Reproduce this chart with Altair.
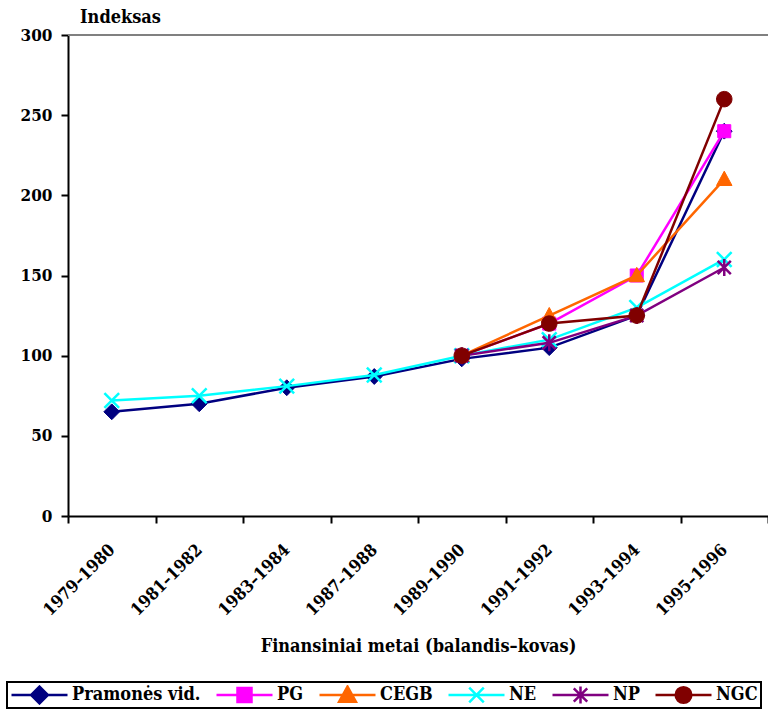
import altair as alt
import pandas as pd

# Financial years (April–March)
years = ["1979–1980", "1981–1982", "1983–1984", "1987–1988",
         "1989–1990", "1991–1992", "1993–1994", "1995–1996"]

# Index values per series (None = no data for that year)
pramones = [65, 70, 80, 87, 98, 105, 125, 240]
pg = [None, None, None, None, 100, 120, 150, 240]
cegb = [None, None, None, None, 100, 125, 150, 210]
ne = [72, 75, 81, 88, 100, 110, 130, 160]
np_vals = [None, None, None, None, 100, 108, 125, 155]
ngc = [None, None, None, None, 100, 120, 125, 260]

names = ["Pramonės vid.", "PG", "CEGB", "NE", "NP", "NGC"]
values = [pramones, pg, cegb, ne, np_vals, ngc]
colors = ["#000080", "#FF00FF", "#FF6600", "#00FFFF", "#800080", "#800000"]

y_ticks = [0, 50, 100, 150, 200, 250, 300]

# Marker glyphs in unit coordinates
markers = {
    "Pramonės vid.": "M0,-1L1,0L0,1L-1,0Z",
    "PG": "M-0.9,-0.9H0.9V0.9H-0.9Z",
    "CEGB": "M0,-1.05L1,0.8H-1Z",
    "NE": "M-0.95,-0.95L0.95,0.95M-0.95,0.95L0.95,-0.95",
    "NP": "M-0.85,-0.85L0.85,0.85M-0.85,0.85L0.85,-0.85M0,-1.1V1.1",
    "NGC": "M-1,0A1,1 0 1,0 1,0A1,1 0 1,0 -1,0Z",
}
marker_sizes = {"Pramonės vid.": 250, "PG": 210, "CEGB": 240,
                "NE": 240, "NP": 240, "NGC": 240}

# Legend glyphs: a short line with the marker in the middle
legend_marks = {
    "Pramonės vid.": "M0,-0.3L0.3,0L0,0.3L-0.3,0Z",
    "PG": "M-0.25,-0.25H0.25V0.25H-0.25Z",
    "CEGB": "M0,-0.3L0.3,0.24H-0.3Z",
    "NE": "M-0.26,-0.26L0.26,0.26M-0.26,0.26L0.26,-0.26",
    "NP": "M-0.24,-0.24L0.24,0.24M-0.24,0.24L0.24,-0.24M0,-0.3V0.3",
    "NGC": "M-0.28,0A0.28,0.28 0 1,0 0.28,0A0.28,0.28 0 1,0 -0.28,0Z",
}
legend_paths = ["M-1,0H1" + legend_marks[n] for n in names]

rows = []
for name, vals in zip(names, values):
    for yr, v in zip(years, vals):
        if v is not None:
            rows.append({"metai": yr, "serija": name, "indeksas": v})
df = pd.DataFrame(rows)

FONT = "DejaVu Serif Condensed"

x_enc = alt.X(
    "metai:N",
    scale=alt.Scale(type="band", domain=years, paddingInner=0, paddingOuter=0),
    bandPosition=0.5,
    axis=alt.Axis(
        title="Finansiniai metai (balandis–kovas)",
        tickBand="extent",
        labelAngle=-45,
        labelAlign="right",
        labelBaseline="middle",
        labelPadding=24,
        tickSize=7,
        titleY=135,
        titleBaseline="alphabetic",
    ),
)
y_enc = alt.Y(
    "indeksas:Q",
    scale=alt.Scale(domain=[0, 300], nice=False),
    axis=alt.Axis(
        title="Indeksas",
        values=y_ticks,
        tickSize=7,
        labelPadding=9,
        titleAngle=0,
        titleAlign="center",
        titleBaseline="alphabetic",
        titleX=52,
        titleY=-13,
    ),
)

top_line = alt.Chart(pd.DataFrame({"indeksas": [max(y_ticks)]})).mark_rule(
    color="#808080", strokeWidth=2
).encode(y=alt.Y("indeksas:Q", scale=alt.Scale(domain=[0, 300], nice=False)))

layers = [top_line]
for name, col in zip(names, colors):
    sub = df[df["serija"] == name]
    layers.append(
        alt.Chart(sub).mark_line(color=col, strokeWidth=2.5).encode(x=x_enc, y=y_enc)
    )
    open_glyph = name in ("NE", "NP")
    layers.append(
        alt.Chart(sub).mark_point(
            shape=markers[name], filled=True, fill=col, stroke=col,
            strokeWidth=2.5 if open_glyph else 1, size=marker_sizes[name], opacity=1,
        ).encode(x=x_enc, y=y_enc)
    )

# Legend-only layer (no rows drawn, domain given explicitly)
legend = alt.Legend(title=None)
key = alt.Chart(df).transform_filter("false").mark_point(
    filled=True, size=3136, strokeWidth=2.5, opacity=1
).encode(
    x=x_enc,
    y=y_enc,
    fill=alt.Fill("serija:N", scale=alt.Scale(domain=names, range=colors), legend=legend),
    stroke=alt.Stroke("serija:N", scale=alt.Scale(domain=names, range=colors), legend=legend),
    shape=alt.Shape("serija:N", scale=alt.Scale(domain=names, range=legend_paths), legend=legend),
)
layers.append(key)

chart = alt.layer(*layers).properties(
    width=700,
    height=481,
    autosize=alt.AutoSizeParams(type="none"),
    padding={"left": 68, "top": 35, "right": 0, "bottom": 196},
    background="white",
).configure_view(stroke=None).configure_axis(
    domainColor="black",
    domainWidth=2,
    tickColor="black",
    tickWidth=2,
    grid=False,
    labelFont=FONT,
    labelFontWeight="bold",
    labelFontSize=17,
    labelColor="black",
    titleFont=FONT,
    titleFontWeight="bold",
    titleFontSize=18,
    titleColor="black",
).configure_legend(
    orient="none",
    legendX=-61,
    legendY=647,
    direction="horizontal",
    columns=6,
    strokeColor="black",
    strokeWidth=2,
    padding=3,
    columnPadding=14,
    labelOffset=3,
    labelFont=FONT,
    labelFontWeight="bold",
    labelFontSize=18,
    labelColor="black",
    labelLimit=400,
    symbolSize=3136,
    symbolStrokeWidth=2.5,
    symbolOpacity=1,
    clipHeight=20,
)

chart.save("out.html", embed_options={"renderer": "svg", "actions": False})
